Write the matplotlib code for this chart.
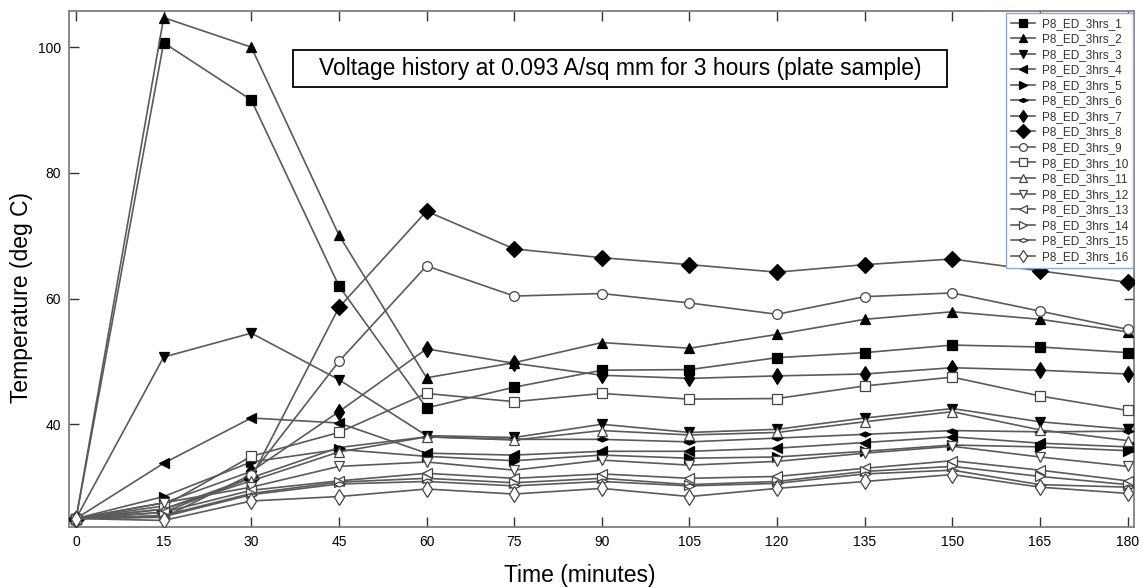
import matplotlib
matplotlib.use("Agg")
import matplotlib.pyplot as plt
from matplotlib.patches import Rectangle

plt.rcParams["font.family"] = ["Liberation Sans", "DejaVu Sans"]

# sample times (minutes)
minutes = [0, 15, 30, 45, 60, 75, 90, 105, 120, 135, 150, 165, 180]

# temperature readings (deg C) per run
run_1 = [25, 100.7, 91.6, 62.0, 42.6, 45.9, 48.6, 48.7, 50.6, 51.4, 52.6, 52.3, 51.4]
run_2 = [25, 104.7, 100.0, 70.1, 47.4, 49.8, 53.0, 52.1, 54.3, 56.7, 57.9, 56.7, 54.7]
run_3 = [25, 50.7, 54.5, 47.1, 38.2, 37.9, 40.0, 38.7, 39.2, 41.0, 42.5, 40.4, 39.2]
run_4 = [25, 33.8, 41.0, 40.2, 35.4, 35.1, 35.7, 35.7, 36.2, 37.1, 38.0, 37.0, 36.4]
run_5 = [25, 28.5, 34.0, 36.0, 34.9, 34.2, 35.1, 34.6, 34.8, 35.7, 36.7, 36.4, 35.8]
run_6 = [25, 26.5, 31.5, 36.3, 38.0, 37.6, 37.6, 37.2, 37.8, 38.4, 39.0, 38.8, 38.9]
run_7 = [25, 27.5, 32.5, 42.0, 52.0, 49.7, 47.8, 47.3, 47.7, 48.0, 49.0, 48.6, 48.0]
run_8 = [25, 26.0, 31.5, 58.6, 73.9, 67.9, 66.5, 65.4, 64.2, 65.4, 66.3, 64.4, 62.6]
run_9 = [25, 25.2, 32.0, 50.0, 65.2, 60.4, 60.8, 59.3, 57.5, 60.3, 60.9, 58.0, 55.1]
run_10 = [25, 27.0, 34.9, 38.7, 44.9, 43.6, 44.9, 44.0, 44.1, 46.1, 47.5, 44.5, 42.2]
run_11 = [25, 26.5, 31.0, 35.6, 38.0, 37.5, 39.0, 38.3, 38.7, 40.4, 42.0, 39.1, 37.4]
run_12 = [25, 27.5, 30.0, 33.3, 34.0, 32.7, 34.3, 33.5, 34.1, 35.4, 36.5, 34.8, 33.3]
run_13 = [25, 26.0, 29.5, 31.0, 32.2, 31.4, 32.1, 31.4, 31.7, 33.0, 34.2, 32.7, 31.0]
run_14 = [25, 25.5, 29.0, 30.8, 31.4, 30.7, 31.4, 30.4, 30.9, 32.5, 33.3, 31.7, 30.4]
run_15 = [25, 25.3, 28.8, 30.5, 30.9, 30.2, 30.9, 30.2, 30.6, 32.1, 32.7, 30.4, 30.0]
run_16 = [25, 24.7, 27.8, 28.5, 29.7, 28.9, 29.8, 28.5, 29.8, 30.9, 32.0, 30.0, 29.0]

runs = [run_1, run_2, run_3, run_4, run_5, run_6, run_7, run_8,
        run_9, run_10, run_11, run_12, run_13, run_14, run_15, run_16]
labels = [f"P8_ED_3hrs_{i}" for i in range(1, 17)]

flat_diamond = [(-1, 0), (0, 0.45), (1, 0), (0, -0.45), (-1, 0)]
markers = ["s", "^", "v", "<", ">", flat_diamond, "d", "D",
           "o", "s", "^", "v", "<", ">", flat_diamond, "d"]
sizes = [7, 7.5, 7.5, 7.5, 7.5, 8, 8, 8.5,
         7, 7, 7.5, 7.5, 7.5, 7.5, 8, 8]

fig = plt.figure(figsize=(11.44, 5.88), dpi=100)
ax = fig.add_axes([0.0606, 0.1042, 0.9307, 0.8776])

for i, (vals, lab) in enumerate(zip(runs, labels)):
    filled = i < 8
    ax.plot(minutes, vals, color="#5a5a5a", lw=1.2, marker=markers[i],
            markersize=sizes[i],
            markerfacecolor="black" if filled else "white",
            markeredgecolor="black" if filled else "#444444",
            markeredgewidth=0.9, label=lab, zorder=3)

ax.set_xlim(-1.15, 181.1)
ax.set_ylim(23.7, 105.8)
ax.set_xticks(minutes)
ax.set_yticks([40, 60, 80, 100])
ax.tick_params(direction="in", length=7, width=1, top=True, right=True,
               labelsize=10, color="#333333", pad=6)
for sp in ax.spines.values():
    sp.set_color("#7f7f7f")
    sp.set_linewidth(1.3)

ax.set_xlabel("Time (minutes)", fontsize=16.5)
ax.xaxis.set_label_coords(0.4797, -0.072)
ax.set_ylabel("Temperature (deg C)", fontsize=16.5)
ax.yaxis.set_label_coords(-0.034, 0.445)

# title box inside the plot
fig.patches.append(Rectangle((293 / 1144, 1 - 87 / 588), 654 / 1144, 37 / 588,
                             transform=fig.transFigure, facecolor="white",
                             edgecolor="black", lw=1.3, zorder=5))
fig.text(620 / 1144, 1 - 68.5 / 588,
         "Voltage history at 0.093 A/sq mm for 3 hours (plate sample)",
         ha="center", va="center", fontsize=16.5, zorder=6)

leg = fig.legend(loc="upper right", bbox_to_anchor=(1133 / 1144, 1 - 13 / 588),
                 fontsize=8.5, labelspacing=0.3, handlelength=2.0,
                 handletextpad=0.6, borderpad=0.4, borderaxespad=0,
                 fancybox=False, framealpha=1, edgecolor="#8ea9cd",
                 markerscale=0.8)
leg.get_frame().set_linewidth(1.0)
for t in leg.get_texts():
    t.set_color("#333333")

fig.savefig("out.png", dpi=100)
